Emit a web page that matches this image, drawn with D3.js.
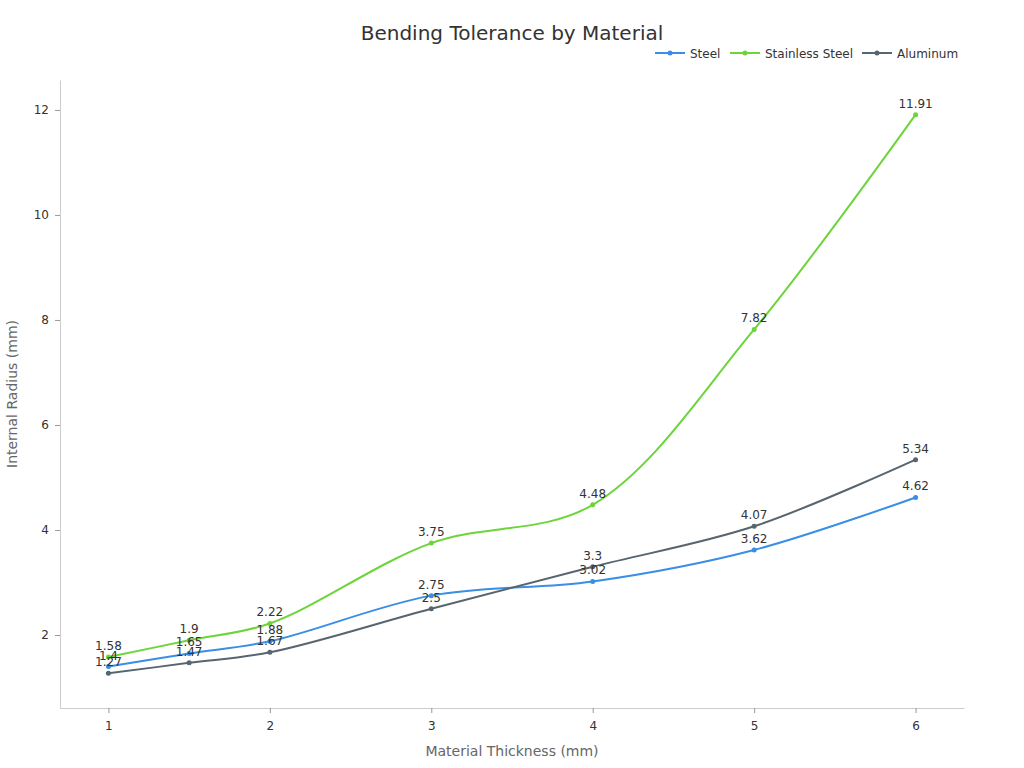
<!DOCTYPE html>
<html><head><meta charset="utf-8">
<script src="https://cdn.jsdelivr.net/npm/d3@7/dist/d3.min.js"></script>
<style>body{margin:0;background:#fff;font-family:"DejaVu Sans",sans-serif;}</style>
</head><body>
<svg id="c" width="1024" height="768"></svg>
<script>
const thickness = [1, 1.5, 2, 3, 4, 5, 6];
const steel = [1.4, 1.65, 1.88, 2.75, 3.02, 3.62, 4.62];
const stainless = [1.58, 1.9, 2.22, 3.75, 4.48, 7.82, 11.91];
const aluminum = [1.27, 1.47, 1.67, 2.5, 3.3, 4.07, 5.34];
const seriesNames = ["Steel", "Stainless Steel", "Aluminum"];
const xTicks = [1, 2, 3, 4, 5, 6];
const yTicks = [2, 4, 6, 8, 10, 12];

const colors = ["#3a8ee6", "#6dd43a", "#56656f"];
const series = [steel, stainless, aluminum];

const svg = d3.select("#c");
const L = 60, R = 964, T = 80, B = 708;
const x = d3.scaleLinear().domain([0.7, 6.3]).range([L, R]);
const y = d3.scaleLinear().domain([0.61, 12.57]).range([B, T]);

svg.append("text").attr("x", 512).attr("y", 40).attr("text-anchor", "middle")
  .attr("font-size", 20).attr("fill", "#333").text("Bending Tolerance by Material");

const xa = svg.append("g").attr("transform", `translate(0,${B})`)
  .call(d3.axisBottom(x).tickValues(xTicks).tickSizeInner(5).tickSizeOuter(0).tickPadding(8).tickFormat(d3.format("d")));
const ya = svg.append("g").attr("transform", `translate(${L},0)`)
  .call(d3.axisLeft(y).tickValues(yTicks).tickSizeInner(5).tickSizeOuter(0).tickPadding(6).tickFormat(d3.format("d")));
[xa, ya].forEach(a => {
  a.select(".domain").attr("stroke", "#ccc");
  a.selectAll(".tick line").attr("stroke", "#999");
  a.selectAll(".tick text").attr("fill", "#333").attr("font-size", 12).attr("font-family", "DejaVu Sans, sans-serif");
});

svg.append("text").attr("x", 512).attr("y", 756).attr("text-anchor", "middle")
  .attr("font-size", 14).attr("fill", "#666").text("Material Thickness (mm)");
svg.append("text").attr("transform", "translate(17,394) rotate(-90)").attr("text-anchor", "middle")
  .attr("font-size", 14).attr("fill", "#666").text("Internal Radius (mm)");

const line = d3.line().x(d => x(d[0])).y(d => y(d[1])).curve(d3.curveCatmullRom.alpha(0.5));

series.forEach((vals, i) => {
  const pts = thickness.map((t, j) => [t, vals[j]]);
  const g = svg.append("g");
  g.append("path").datum(pts).attr("d", line).attr("fill", "none")
    .attr("stroke", colors[i]).attr("stroke-width", 2);
  g.selectAll("circle").data(pts).join("circle")
    .attr("cx", d => x(d[0])).attr("cy", d => y(d[1])).attr("r", 2.5).attr("fill", colors[i]);
});
series.forEach((vals, i) => {
  const pts = thickness.map((t, j) => [t, vals[j]]);
  svg.append("g").selectAll("text").data(pts).join("text")
    .attr("x", d => x(d[0])).attr("y", d => y(d[1]) - 7).attr("text-anchor", "middle")
    .attr("font-size", 12).attr("fill", "#333").text(d => d[1]);
});

// legend
const legendX = [655, 730, 862];
seriesNames.forEach((n, i) => {
  const g = svg.append("g").attr("transform", `translate(${legendX[i]},53)`);
  g.append("line").attr("x1", 0).attr("x2", 30).attr("stroke", colors[i]).attr("stroke-width", 2);
  g.append("circle").attr("cx", 15).attr("r", 2.5).attr("fill", colors[i]);
  g.append("text").attr("x", 35).attr("y", 4.5).attr("font-size", 12).attr("fill", "#333").text(n);
});
</script>
</body></html>
